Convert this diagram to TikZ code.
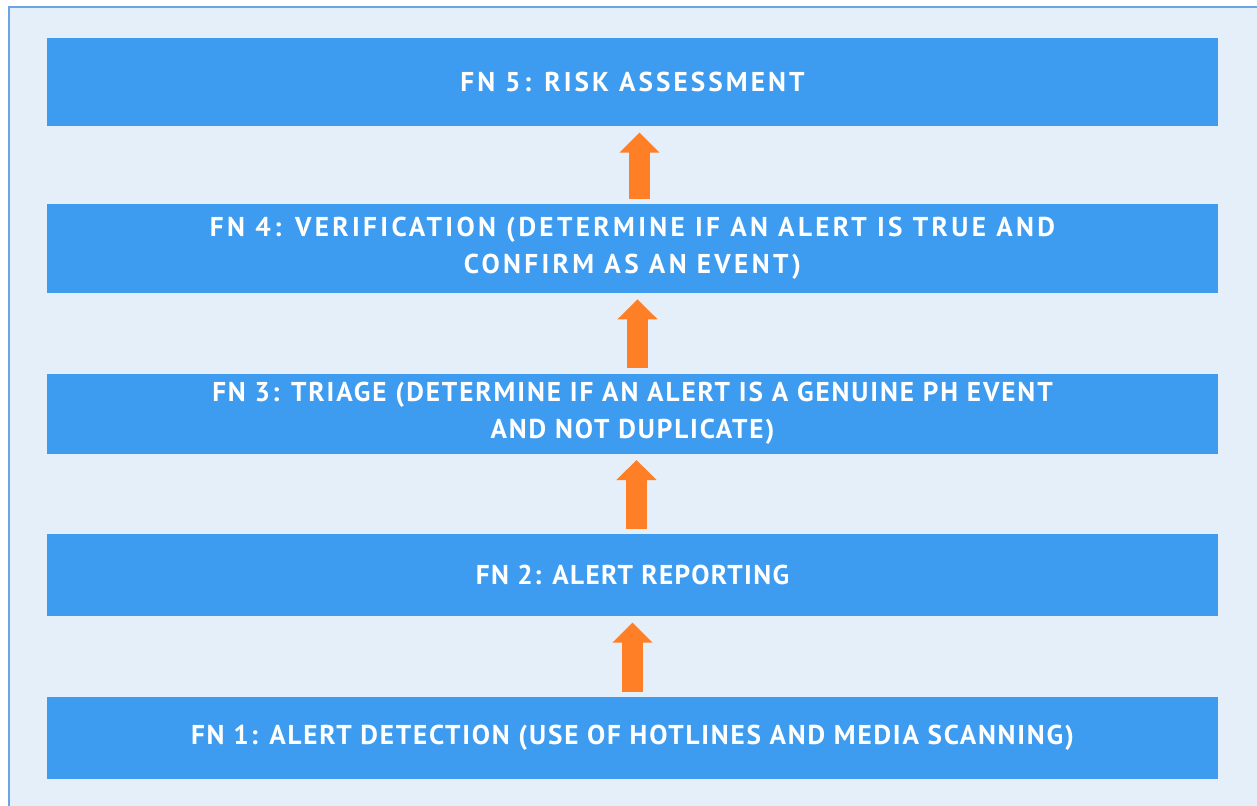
\documentclass[tikz,border=0pt]{standalone}
\usepackage{fontspec}
\setmainfont{PT Sans}
\usetikzlibrary{positioning,arrows.meta}

\definecolor{fnblue}{RGB}{61,155,240}
\definecolor{fnback}{RGB}{228,239,250}
\definecolor{fnframe}{RGB}{105,165,230}
\definecolor{fnorange}{RGB}{255,127,39}

\tikzset{
  fnbox/.style={fill=fnblue, text=white,
    font=\fontsize{15.5}{21}\selectfont\bfseries\addfontfeatures{LetterSpace=#1},
    minimum width=23.42cm, align=center, inner sep=0pt},
  uparrow/.style={draw=fnorange, line width=0.42cm,
    -{Triangle[length=0.4cm,width=0.78cm]}, shorten <=0.1cm, shorten >=0.12cm}
}

\begin{document}
\begin{tikzpicture}[x=0.02cm,y=-0.02cm, node distance=1.6cm]
  % page and frame
  \useasboundingbox (0,0) rectangle (1257,805);
  \fill[white] (0,0) rectangle (1257,805);
  \filldraw[fill=fnback, draw=fnframe, line width=1.5pt] (9,7) rectangle (1270,820);

  \node[fnbox=6.6, minimum height=1.64cm] (fn1) at (632.5,738) {FN 1: ALERT DETECTION (USE OF HOTLINES AND MEDIA SCANNING)};
  \node[fnbox=5, minimum height=1.64cm] (fn2) [above=of fn1] {FN 2: ALERT REPORTING};
  \node[fnbox=7, minimum height=1.6cm] (fn3) [above=of fn2] {FN 3: TRIAGE (DETERMINE IF AN ALERT IS A GENUINE PH EVENT\\AND NOT DUPLICATE)};
  \node[fnbox=12.3, minimum height=1.78cm] (fn4) [above=of fn3] {FN 4: VERIFICATION (DETERMINE IF AN ALERT IS TRUE AND\\CONFIRM AS AN EVENT)};
  \node[fnbox=11.3, minimum height=1.76cm] (fn5) [above=1.54cm of fn4] {FN 5: RISK ASSESSMENT};

  % flow upwards
  \draw[uparrow] (fn1.north) -- (fn2.south);
  \draw[uparrow] ([xshift=0.08cm]fn2.north) -- ([xshift=0.08cm]fn3.south);
  \draw[uparrow] ([xshift=0.1cm]fn3.north) -- ([xshift=0.1cm]fn4.south);
  \draw[uparrow] ([xshift=0.14cm]fn4.north) -- ([xshift=0.14cm]fn5.south);
\end{tikzpicture}
\end{document}
